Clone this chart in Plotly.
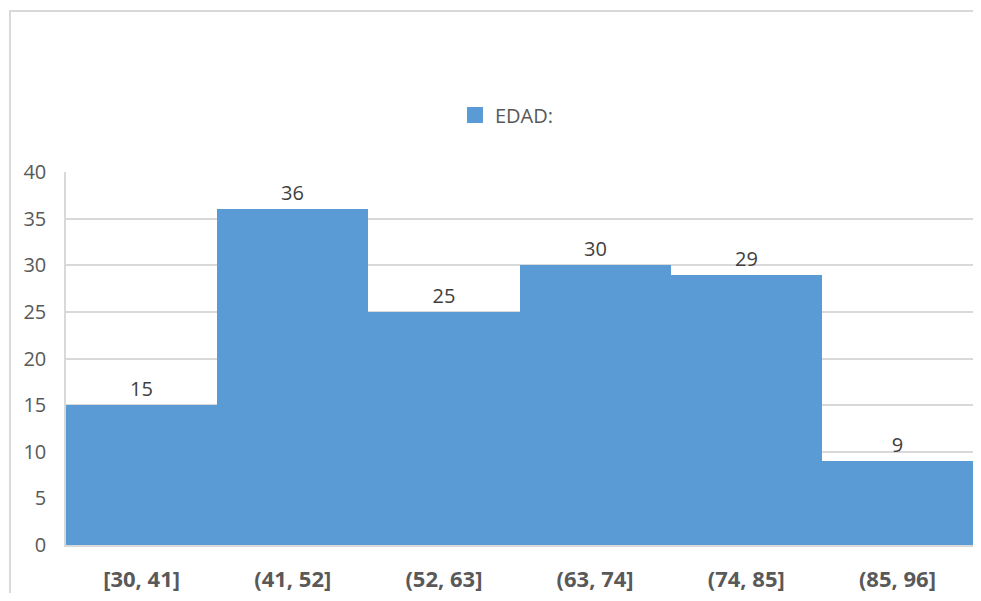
import plotly.graph_objects as go

categories = ["[30, 41]", "(41, 52]", "(52, 63]", "(63, 74]", "(74, 85]", "(85, 96]"]
values = [15, 36, 25, 30, 29, 9]
series_name = "EDAD:"

BAR = "#5B9BD5"
TXT = "#595959"
GRID = "#D9D9D9"
FONT = "Open Sans"

fig = go.Figure()
fig.add_trace(go.Bar(
    x=categories, y=values, marker=dict(color=BAR, line=dict(width=0)),
    text=[str(v) for v in values], textposition="outside",
    textfont=dict(family=FONT, size=20, color="#404040"),
    cliponaxis=False, showlegend=False, name=series_name,
))
fig.add_trace(go.Scatter(
    x=[None], y=[None], mode="markers", name=series_name,
    marker=dict(symbol="square", size=16, color=BAR),
))

fig.update_layout(
    width=965, height=585,
    margin=dict(l=58, r=0, t=164, b=48, autoexpand=False),
    paper_bgcolor="white", plot_bgcolor="white",
    bargap=0,
    font=dict(family=FONT, size=20, color=TXT),
    showlegend=True,
    legend=dict(orientation="h", x=0.4862, y=1.153, xanchor="center", yanchor="middle",
                font=dict(family=FONT, size=20, color=TXT), bgcolor="rgba(0,0,0,0)"),
    shapes=[dict(type="rect", xref="paper", yref="paper",
                 x0=-0.0617, x1=1.2, y0=-0.3, y1=1.4316,
                 line=dict(color=GRID, width=2), layer="below")],
)
fig.update_xaxes(
    type="category", range=[-0.5, 5.5], showgrid=False, automargin=False,
    showline=True, linecolor=GRID, linewidth=2,
    tickfont=dict(family=FONT, size=22, color=TXT, weight="bold"),
    ticks="", ticklabelstandoff=14,
)
fig.update_yaxes(
    range=[0, 40], dtick=5, showgrid=True, gridcolor=GRID, gridwidth=1.5, automargin=False,
    zeroline=False, showline=True, linecolor=GRID, linewidth=1.5, ticks="",
    tickfont=dict(family=FONT, size=20, color=TXT), ticklabelstandoff=14,
)

fig.write_html("out.html")
